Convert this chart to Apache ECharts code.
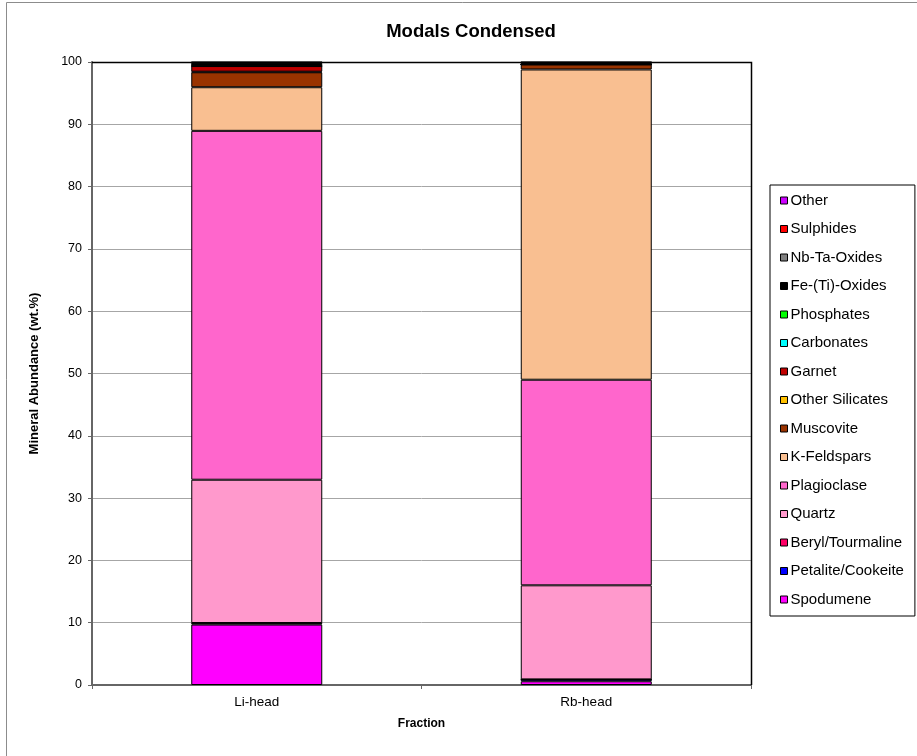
<!DOCTYPE html>
<html>
<head>
<meta charset="utf-8">
<script src="https://cdn.jsdelivr.net/npm/echarts@6/dist/echarts.min.js"></script>
<style>
  html, body { margin: 0; padding: 0; background: #fff; }
  #chart { width: 917px; height: 756px; }
</style>
</head>
<body>
<div id="chart"></div>
<script>
// Sample fractions on the x axis
const fractions = ['Li-head', 'Rb-head'];

// Mineral groups, bottom of the stack first
const minerals = [
  'Spodumene', 'Petalite/Cookeite', 'Beryl/Tourmaline', 'Quartz', 'Plagioclase',
  'K-Feldspars', 'Muscovite', 'Other Silicates', 'Garnet', 'Carbonates',
  'Phosphates', 'Fe-(Ti)-Oxides', 'Nb-Ta-Oxides', 'Sulphides', 'Other'
];

// Abundance (wt.%) per mineral group: [Li-head, Rb-head]
const spodumene      = [9.7, 0.6];
const petalite       = [0.2, 0.3];
const berylTourm     = [0.05, 0.0];
const quartz         = [23.0, 15.1];
const plagioclase    = [56.0, 33.0];
const kFeldspars     = [7.0, 49.8];
const muscovite      = [2.4, 0.8];
const otherSilicates = [0.1, 0.0];
const garnet         = [0.9, 0.0];
const carbonates     = [0.0, 0.0];
const phosphates     = [0.05, 0.0];
const feTiOxides     = [0.4, 0.3];
const nbTaOxides     = [0.05, 0.0];
const sulphides      = [0.1, 0.05];
const other          = [0.05, 0.05];

const values = [spodumene, petalite, berylTourm, quartz, plagioclase, kFeldspars,
  muscovite, otherSilicates, garnet, carbonates, phosphates, feTiOxides,
  nbTaOxides, sulphides, other];

const colors = ['#FF00FF', '#0000FF', '#FF0066', '#FF99CC', '#FF66CC',
  '#F9BF91', '#993300', '#FFC000', '#C00000', '#00FFFF',
  '#00FF00', '#000000', '#808080', '#FF0000', '#CC00FF'];

const yTicks = { min: 0, max: 100, interval: 10 };

const FONT = '"Liberation Sans", Arial, sans-serif';

const series = minerals.map((name, i) => ({
  name: name,
  type: 'bar',
  stack: 'modal',
  barWidth: 131,
  data: values[i],
  itemStyle: { color: colors[i], borderColor: '#000', borderWidth: 1 },
  emphasis: { disabled: true }
}));

const chart = echarts.init(document.getElementById('chart'), null, { renderer: 'canvas' });
chart.setOption({
  animation: false,
  backgroundColor: '#fff',
  textStyle: { fontFamily: FONT },
  title: {
    text: 'Modals Condensed',
    left: 466, top: 17, textAlign: 'center',
    textStyle: { fontFamily: FONT, fontSize: 18.5, fontWeight: 'bold', color: '#000' }
  },
  graphic: [
    { type: 'rect', shape: { x: 6.5, y: 2.5, width: 1000, height: 1000 },
      style: { fill: null, stroke: '#8c8c8c', lineWidth: 1 }, silent: true, z: -1 },
    // frame on the top and right of the plot area
    { type: 'polyline', shape: { points: [[92, 62.5], [751.5, 62.5], [751.5, 685]] },
      style: { stroke: '#000', lineWidth: 1.5, fill: null }, silent: true, z: 10 }
  ],
  legend: {
    orient: 'vertical',
    left: 770, top: 185,
    padding: [8, 11, 9, 10],
    backgroundColor: '#fff',
    borderColor: '#000',
    borderWidth: 1,
    itemWidth: 7, itemHeight: 7,
    itemGap: 13.5,
    icon: 'rect',
    selectedMode: false,
    itemStyle: { borderColor: '#000', borderWidth: 1 },
    textStyle: { fontFamily: FONT, fontSize: 15, color: '#000', padding: [0, 0, 0, -2], lineHeight: 14 },
    data: minerals.slice().reverse()
  },
  grid: { left: 92, top: 62, right: 166, bottom: 71, containLabel: false },
  xAxis: {
    type: 'category',
    data: fractions,
    name: 'Fraction',
    nameLocation: 'middle',
    nameGap: 33,
    nameTextStyle: { fontFamily: FONT, fontSize: 12, fontWeight: 'bold', color: '#000' },
    axisLine: { lineStyle: { color: '#666', width: 2 } },
    axisTick: { show: true, length: 4, lineStyle: { color: '#666' } },
    axisLabel: { fontFamily: FONT, fontSize: 13.5, color: '#000', margin: 10 }
  },
  yAxis: {
    type: 'value',
    min: yTicks.min, max: yTicks.max, interval: yTicks.interval,
    name: 'Mineral Abundance (wt.%)',
    nameLocation: 'middle',
    nameGap: 51,
    nameTextStyle: { fontFamily: FONT, fontSize: 13, fontWeight: 'bold', color: '#000' },
    axisLine: { show: true, lineStyle: { color: '#666', width: 2 } },
    axisTick: { show: true, length: 4, lineStyle: { color: '#666' } },
    axisLabel: { fontFamily: FONT, fontSize: 12.5, color: '#000', margin: 10 },
    splitLine: { show: true, lineStyle: { color: '#a6a6a6', width: 1 } }
  },
  series: series
});
</script>
</body>
</html>
